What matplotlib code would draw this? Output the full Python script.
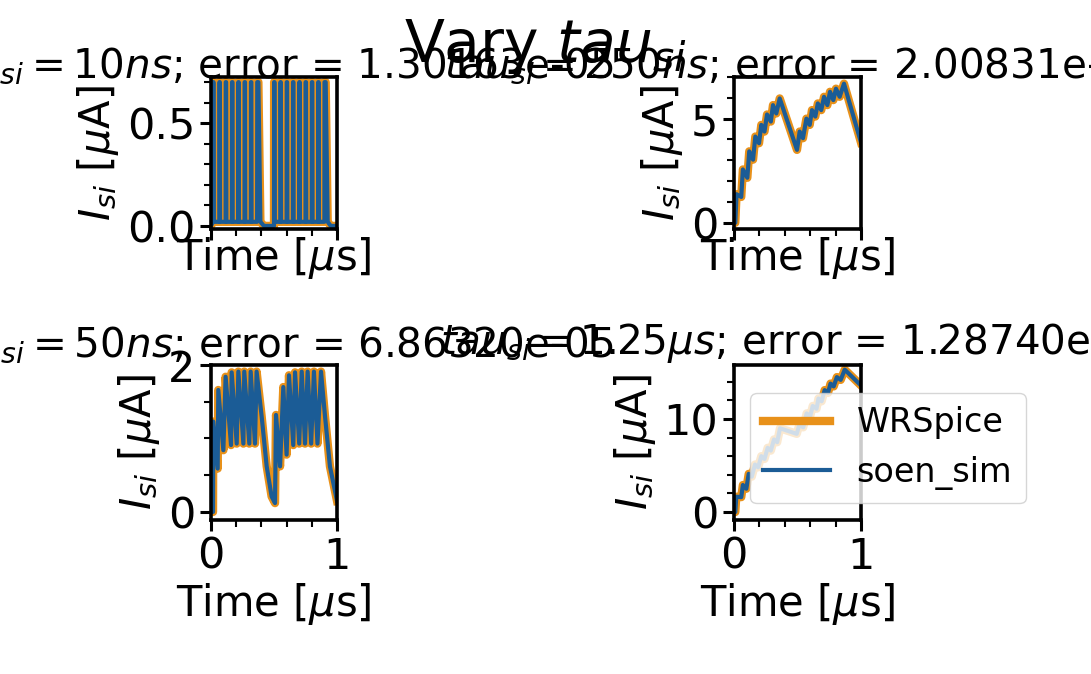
import matplotlib
matplotlib.use('Agg')
import matplotlib.pyplot as plt
from matplotlib.ticker import MultipleLocator

plt.rcParams['font.family'] = ['DejaVu Sans']
plt.rcParams['mathtext.fontset'] = 'dejavusans'
plt.rcParams['font.size'] = 30

# ---------------- data ----------------
suptitle = r"Vary $tau_{si}$"
titles = [r"$tau_{si} = 10ns$; error = 1.30163e-05",
          r"$tau_{si} = 250ns$; error = 2.00831e-05",
          r"$tau_{si} = 50ns$; error = 6.86320e-05",
          r"$tau_{si} = 1.25\mu s$; error = 1.28740e-05"]
xlabel = r"Time [$\mu$s]"
ylabel = r"$I_{si}$ [$\mu$A]"
series_names = ["WRSpice", "soen_sim"]

# panel 1: tau = 10 ns
t_10ns = [0.0, 0.016, 0.017, 0.020, 0.022, 0.066, 0.067, 0.070, 0.072,
          0.116, 0.117, 0.120, 0.122, 0.166, 0.167, 0.170, 0.172,
          0.216, 0.217, 0.220, 0.222, 0.266, 0.267, 0.270, 0.272,
          0.316, 0.317, 0.320, 0.322, 0.366, 0.367, 0.376, 0.392, 0.42,
          0.500, 0.501, 0.504, 0.506, 0.550, 0.551, 0.554, 0.556,
          0.600, 0.601, 0.604, 0.606, 0.650, 0.651, 0.654, 0.656,
          0.700, 0.701, 0.704, 0.706, 0.750, 0.751, 0.754, 0.756,
          0.800, 0.801, 0.804, 0.806, 0.850, 0.851, 0.854, 0.856,
          0.900, 0.901, 0.910, 0.926, 0.95, 1.0]
I_10ns = [0.0, 0.02, 0.70, 0.70, 0.02, 0.02, 0.70, 0.70, 0.02,
          0.02, 0.70, 0.70, 0.02, 0.02, 0.70, 0.70, 0.02,
          0.02, 0.70, 0.70, 0.02, 0.02, 0.70, 0.70, 0.02,
          0.02, 0.70, 0.70, 0.02, 0.02, 0.70, 0.70, 0.02, 0.0,
          0.0, 0.70, 0.70, 0.02, 0.02, 0.70, 0.70, 0.02,
          0.02, 0.70, 0.70, 0.02, 0.02, 0.70, 0.70, 0.02,
          0.02, 0.70, 0.70, 0.02, 0.02, 0.70, 0.70, 0.02,
          0.02, 0.70, 0.70, 0.02, 0.02, 0.70, 0.70, 0.02,
          0.02, 0.70, 0.70, 0.02, 0.0, 0.0]

# panel 2: tau = 250 ns
t_250ns = [0.0, 0.01, 0.02, 0.057, 0.07, 0.105, 0.12, 0.15, 0.168, 0.197,
           0.215, 0.24, 0.26, 0.29, 0.307, 0.333, 0.36, 0.496,
           0.517, 0.543, 0.57, 0.596, 0.614, 0.64, 0.66, 0.687,
           0.709, 0.735, 0.756, 0.782, 0.803, 0.832, 0.866, 1.0]
I_250ns = [0.0, 0.0, 1.37, 1.24, 2.56, 2.16, 3.43, 3.03, 4.14, 3.82,
           4.70, 4.38, 5.20, 4.86, 5.65, 5.25, 5.97, 3.50,
           4.38, 4.06, 5.00, 4.70, 5.41, 5.10, 5.73, 5.41,
           6.05, 5.65, 6.29, 5.89, 6.44, 6.05, 6.68, 3.85]

# panel 3: tau = 50 ns
t_50ns = [0.0, 0.016, 0.018, 0.053, 0.058, 0.098, 0.116, 0.159, 0.164, 0.204,
          0.217, 0.257, 0.264, 0.304, 0.315, 0.349, 0.362, 0.402, 0.442,
          0.481, 0.508, 0.516, 0.548, 0.574, 0.60, 0.619, 0.653, 0.667,
          0.70, 0.72, 0.746, 0.767, 0.795, 0.817, 0.845, 0.873, 0.905,
          0.944, 1.0]
I_50ns = [0.0, 0.0, 1.23, 0.59, 1.66, 0.84, 1.84, 0.91, 1.90, 0.93,
          1.91, 0.93, 1.91, 0.93, 1.91, 0.93, 1.91, 1.30, 0.62,
          0.21, 0.12, 1.32, 0.62, 1.70, 0.78, 1.86, 0.91, 1.90,
          0.93, 1.91, 0.93, 1.91, 0.93, 1.91, 0.93, 1.91, 1.30,
          0.62, 0.15]

# panel 4: tau = 1.25 us
t_125us = [0.0, 0.01, 0.018, 0.057, 0.07, 0.097, 0.116, 0.14, 0.165, 0.19,
           0.215, 0.24, 0.265, 0.29, 0.315, 0.34, 0.362, 0.494, 0.515,
           0.545, 0.572, 0.60, 0.62, 0.65, 0.665, 0.69, 0.714, 0.74,
           0.76, 0.785, 0.81, 0.84, 0.872, 1.0]
I_125us = [0.0, 0.0, 1.64, 1.60, 2.90, 2.50, 4.10, 3.80, 5.10, 4.80,
           6.00, 5.70, 6.90, 6.60, 7.80, 7.50, 9.00, 8.40, 9.40,
           9.10, 10.6, 10.3, 11.4, 11.1, 12.2, 11.9, 13.1, 12.8,
           13.8, 13.5, 14.5, 14.2, 15.3, 13.6]

times = [t_10ns, t_250ns, t_50ns, t_125us]
currents = [I_10ns, I_250ns, I_50ns, I_125us]
ylims = [(-0.015, 0.725), (-0.3, 7.0), (-0.11, 2.0), (-0.86, 15.8)]
ymajor = [0.5, 5, 2, 10]
yminor = [0.1, 1, 0.5, 2]

# ---------------- figure ----------------
orange = '#E8911A'
blue = '#1B5C96'

fig, axes = plt.subplots(2, 2, sharex=True, figsize=(10.91, 6.74), dpi=100)
axes = axes.ravel()
W, H = 1091, 674
boxes = [(211, 77, 337, 229), (734, 77, 861, 229),
         (211, 365, 337, 520), (734, 365, 861, 520)]
for i, ax in enumerate(axes):
    x0, y0, x1, y1 = boxes[i]
    ax.set_position([x0 / W, 1 - y1 / H, (x1 - x0) / W, (y1 - y0) / H])
    ax.plot(times[i], currents[i], color=orange, lw=6, label=series_names[0])
    ax.plot(times[i], currents[i], color=blue, lw=3, label=series_names[1])
    ax.set_xlim(0, 1)
    ax.set_ylim(*ylims[i])
    ax.xaxis.set_major_locator(MultipleLocator(1))
    ax.xaxis.set_minor_locator(MultipleLocator(0.2))
    ax.yaxis.set_major_locator(MultipleLocator(ymajor[i]))
    ax.yaxis.set_minor_locator(MultipleLocator(yminor[i]))
    ax.tick_params(which='major', length=8, width=2.2, labelsize=31)
    ax.tick_params(which='minor', length=5, width=1.5)
    for s in ax.spines.values():
        s.set_linewidth(2.6)
    ax.set_title(titles[i], pad=0, fontsize=29.2)
    ax.set_ylabel(ylabel, labelpad=4)

for ax in axes[:2]:
    ax.tick_params(labelbottom=False)
    ax.set_xlabel(xlabel, labelpad=-4)
    ax.xaxis.label.set_visible(True)
for ax in axes[2:]:
    ax.set_xlabel(xlabel, labelpad=2)

axes[3].legend(loc='upper left', bbox_to_anchor=(0.126, 0.82), borderaxespad=0,
               fontsize=24, framealpha=0.8)

fig.suptitle(suptitle, y=0.975, fontsize=42)
fig.savefig('out.png', dpi=100)
